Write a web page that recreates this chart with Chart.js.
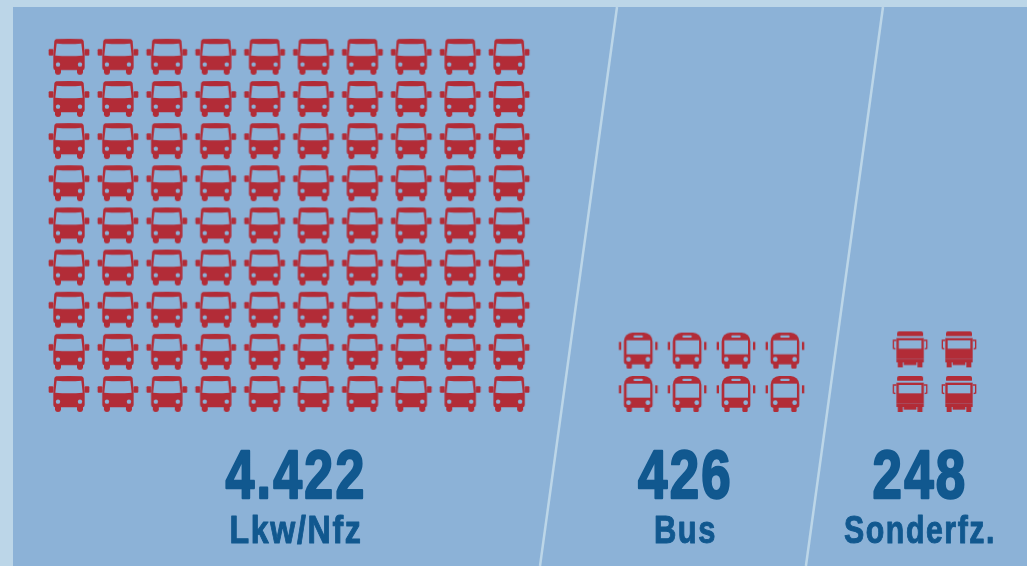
<!DOCTYPE html>
<html>
<head>
<meta charset="utf-8">
<style>
  html, body { margin: 0; padding: 0; background: #bcd6e8; overflow: hidden; }
  canvas { display: block; }
</style>
<script src="https://cdn.jsdelivr.net/npm/chart.js@4"></script>
</head>
<body>
<canvas id="chart" width="1027" height="566"></canvas>
<script>
// vehicle classes, the count printed for each and how many icons stand for it
const categories = ["Lkw/Nfz", "Bus", "Sonderfz."];
const values = [4422, 426, 248];
const iconCounts = [90, 8, 4];
const iconColumns = [10, 4, 2];

// layout, in pictogram cells (1 cell = one icon pitch)
const cellW = 48.9, cellH = 42.15;
const originX = 69, originY = 394;
const groupStart = [0, 11.64, 17.2];
const groupRowGap = [1, 1.03, 1.06];
const dividers = [[11.207, 9.632], [16.646, 15.07]];

const RED = "#b22c37", PANEL = "#8cb2d7", LIGHT = "#bcd6e8", BLUE = "#11588f";

function iconCanvas(draw) {
  const c = document.createElement("canvas");
  c.width = 50; c.height = 44;
  const g = c.getContext("2d");
  g.translate(25, 22);
  g.scale(1 / 3, 1 / 3);
  g.fillStyle = RED;
  draw(g);
  return c;
}

function hole(g, fn) {
  g.globalCompositeOperation = "destination-out";
  g.fillStyle = "#000";
  fn();
  g.globalCompositeOperation = "source-over";
  g.fillStyle = RED;
}

function circleHoles(g, pts, r) {
  hole(g, () => pts.forEach(([x, y]) => {
    g.beginPath(); g.arc(x, y, r, 0, Math.PI * 2); g.fill();
  }));
}

// truck front, drawn in 3x zoom units around its centre
const truckIcon = iconCanvas((g) => {
  g.beginPath();
  g.moveTo(-38, -53);
  g.quadraticCurveTo(0, -55, 38, -53);
  g.quadraticCurveTo(43, -52, 44, -47);
  g.lineTo(47, -8);
  g.lineTo(47, 32);
  g.quadraticCurveTo(47, 39, 42, 40);
  g.lineTo(42, 47); g.quadraticCurveTo(41, 54, 33, 54);
  g.quadraticCurveTo(25, 54, 24, 47);
  g.lineTo(24, 40); g.lineTo(-24, 40); g.lineTo(-24, 47);
  g.quadraticCurveTo(-25, 54, -33, 54);
  g.quadraticCurveTo(-41, 54, -42, 47);
  g.lineTo(-42, 40);
  g.quadraticCurveTo(-47, 39, -47, 32);
  g.lineTo(-47, -8);
  g.lineTo(-44, -47);
  g.quadraticCurveTo(-43, -52, -38, -53);
  g.fill();
  // mirrors
  g.beginPath(); g.roundRect(-61, -23, 14, 19, 3); g.fill();
  g.beginPath(); g.roundRect(47, -23, 14, 19, 3); g.fill();
  hole(g, () => {
    g.beginPath();
    g.moveTo(-37, -40);
    g.quadraticCurveTo(0, -37, 37, -40);
    g.lineTo(41, -4);
    g.quadraticCurveTo(0, 0, -41, -4);
    g.closePath();
    g.fill();
  });
  circleHoles(g, [[-33, 23], [33, 23]], 6.5);
});

// bus front
const busIcon = iconCanvas((g) => {
  g.beginPath();
  g.roundRect(-43, -54, 86, 95, [26, 26, 8, 8]);
  g.fill();
  g.beginPath(); g.roundRect(-35, 30, 16, 24, 4); g.fill();
  g.beginPath(); g.roundRect(19, 30, 16, 24, 4); g.fill();
  g.fillRect(-58, -26, 7, 24); g.fillRect(51, -26, 7, 24);
  hole(g, () => {
    g.fillRect(-35, -31, 71, 42);
    g.beginPath(); g.roundRect(-14, -46, 28, 7, 3); g.fill();
  });
  circleHoles(g, [[-29, 26], [29, 26]], 7);
});

// special vehicle front, with roof bar and bracket mirrors
const specialIcon = iconCanvas((g) => {
  g.beginPath(); g.roundRect(-39, -54, 78, 14, [6, 6, 1, 1]); g.fill();
  g.fillRect(-41, -34, 82, 63);
  g.fillRect(-41, 29, 82, 10);
  g.fillRect(-19, 38, 38, 9);
  g.fillRect(-37, 38, 15, 16); g.fillRect(22, 38, 15, 16);
  hole(g, () => g.fillRect(-34, -27, 68, 25));
  g.strokeStyle = RED;
  g.lineWidth = 4;
  g.beginPath();
  g.moveTo(-41, -27); g.lineTo(-50, -27); g.lineTo(-50, -3); g.lineTo(-44, -1);
  g.moveTo(41, -27); g.lineTo(50, -27); g.lineTo(50, -3); g.lineTo(44, -1);
  g.stroke();
});

const icons = [truckIcon, busIcon, specialIcon];

function iconPoints(i) {
  const rows = Math.ceil(iconCounts[i] / iconColumns[i]);
  const pts = [];
  for (let r = 0; r < rows; r++) {
    for (let c = 0; c < iconColumns[i]; c++) {
      pts.push({ x: groupStart[i] + c, y: r * groupRowGap[i] });
    }
  }
  return pts;
}

const panelPlugin = {
  id: "panel",
  beforeDraw(chart) {
    const ctx = chart.ctx;
    ctx.save();
    ctx.fillStyle = LIGHT;
    ctx.fillRect(0, 0, 1027, 566);
    ctx.fillStyle = PANEL;
    ctx.fillRect(13, 7, 1014, 559);
    ctx.restore();
  },
};

// big number and class name under each group, squeezed to the condensed look
const textCenters = [296, 685.5, 920];
const valueWidths = [141, 95, 95];
const nameWidths = [133, 63, 152];

function fitText(ctx, text, cx, y, width, weight) {
  const w = ctx.measureText(text).width;
  ctx.save();
  ctx.translate(cx, y);
  ctx.scale(width / w, 1);
  ctx.lineWidth = weight;
  ctx.lineJoin = "round";
  ctx.strokeText(text, 0, 0);
  ctx.fillText(text, 0, 0);
  ctx.restore();
}

const labelPlugin = {
  id: "labels",
  afterDraw(chart) {
    const ctx = chart.ctx;
    ctx.save();
    ctx.fillStyle = BLUE;
    ctx.strokeStyle = BLUE;
    ctx.textAlign = "center";
    ctx.textBaseline = "alphabetic";
    categories.forEach((name, i) => {
      ctx.font = 'bold 69px "Liberation Sans"';
      ctx.letterSpacing = "3px";
      fitText(ctx, values[i].toLocaleString("de-DE"), textCenters[i], 498, valueWidths[i], 2.4);
      ctx.font = 'bold 39px "Liberation Sans"';
      ctx.letterSpacing = "2px";
      fitText(ctx, name, textCenters[i], 543, nameWidths[i], 1);
    });
    ctx.restore();
  },
};

const datasets = categories.map((name, i) => ({
  label: name,
  data: iconPoints(i),
  pointStyle: icons[i],
  pointRadius: 20,
  showLine: false,
}));

dividers.forEach((d) => {
  datasets.push({
    label: "divider",
    data: [{ x: d[0], y: (originY - 7) / cellH }, { x: d[1], y: (originY - 566) / cellH }],
    showLine: true,
    borderColor: LIGHT,
    borderWidth: 2.5,
    pointRadius: 0,
  });
});

new Chart(document.getElementById("chart").getContext("2d"), {
  type: "scatter",
  data: { datasets },
  options: {
    responsive: false,
    animation: false,
    events: [],
    layout: { padding: 0, autoPadding: false },
    plugins: { legend: { display: false }, tooltip: { enabled: false } },
    scales: {
      x: { type: "linear", display: false, min: -originX / cellW, max: (1027 - originX) / cellW },
      y: { type: "linear", display: false, min: (originY - 566) / cellH, max: originY / cellH },
    },
  },
  plugins: [panelPlugin, labelPlugin],
});
</script>
</body>
</html>
